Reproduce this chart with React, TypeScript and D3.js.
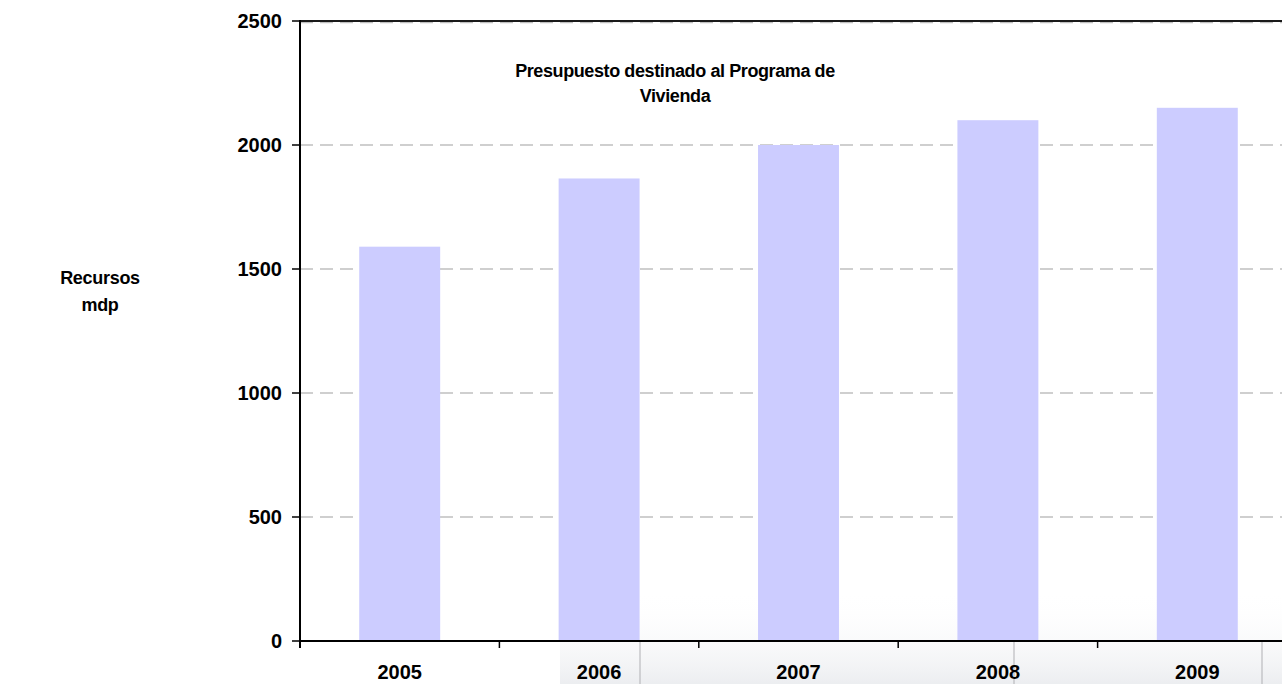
import React from 'react';
import * as d3 from 'd3';

const years = ['2005', '2006', '2007', '2008', '2009'];
const budget = [1590, 1865, 2000, 2100, 2150];
const yTicks = [0, 500, 1000, 1500, 2000, 2500];

const W = 1282;
const H = 684;
const margin = { top: 21, right: -15, bottom: 43, left: 300 };
const font = 'Arial, "Liberation Sans", sans-serif';

export default function App() {
  const x = d3
    .scaleBand<string>()
    .domain(years)
    .range([margin.left, W - margin.right])
    .paddingInner(0.594)
    .paddingOuter(0.297);

  const y = d3
    .scaleLinear()
    .domain([0, 2500])
    .range([H - margin.bottom, margin.top]);

  // category boundaries for the x-axis ticks
  const step = x.step();
  const bounds = d3.range(years.length + 1).map((i) => margin.left + i * step);

  return (
    <div style={{ position: 'absolute', left: 0, top: 0 }}>
      <svg width={W} height={H} style={{ display: 'block', background: '#fff' }} fontFamily={font}>
        <defs>
          <linearGradient id="bg" x1="0" y1="0" x2="0" y2="1">
            <stop offset="0" stopColor="#ffffff" stopOpacity={0} />
            <stop offset="1" stopColor="#e4e6ea" stopOpacity={0.7} />
          </linearGradient>
        </defs>
        {/* faint photo-like backdrop under the axis */}
        <rect x={560} y={590} width={W - 560} height={H - 590} fill="url(#bg)" />
        {[640, 1014, 1262].map((lx) => (
          <line key={lx} x1={lx} x2={lx} y1={y(0)} y2={H} stroke="#b0b0b4" strokeOpacity={0.5} strokeWidth={2} />
        ))}

        {/* gridlines */}
        {yTicks.slice(1).map((t) => (
          <line
            key={t}
            x1={margin.left}
            x2={W}
            y1={y(t) + (t === 2500 ? 1.5 : 0)}
            y2={y(t) + (t === 2500 ? 1.5 : 0)}
            stroke="#c0c0c0"
            strokeWidth={1.5}
            strokeDasharray="13 7"
          />
        ))}

        {/* bars */}
        {years.map((yr, i) => (
          <rect
            key={yr}
            x={x(yr)}
            y={y(budget[i])}
            width={x.bandwidth()}
            height={y(0) - y(budget[i])}
            fill="#ccccff"
          />
        ))}

        {/* top border */}
        <line x1={margin.left} x2={W} y1={y(2500)} y2={y(2500)} stroke="#1a1a1a" strokeWidth={2} />

        {/* y axis */}
        <line x1={margin.left} x2={margin.left} y1={y(2500) - 1} y2={y(0) + 7} stroke="#000" strokeWidth={2} />
        {yTicks.map((t) => (
          <g key={t}>
            <line x1={margin.left - 8} x2={margin.left} y1={y(t)} y2={y(t)} stroke="#000" strokeWidth={1.5} />
            <text
              x={margin.left - 18}
              y={y(t)}
              dy="0.36em"
              textAnchor="end"
              fontSize={20}
              fontWeight="bold"
            >
              {t}
            </text>
          </g>
        ))}

        {/* x axis */}
        <line x1={margin.left} x2={W} y1={y(0)} y2={y(0)} stroke="#000" strokeWidth={2} />
        {bounds.map((b, i) => (
          <line key={i} x1={b} x2={b} y1={y(0)} y2={y(0) + 7} stroke="#000" strokeWidth={1.5} />
        ))}
        {years.map((yr) => (
          <text
            key={yr}
            x={(x(yr) ?? 0) + x.bandwidth() / 2}
            y={679}
            textAnchor="middle"
            fontSize={20}
            fontWeight="bold"
          >
            {yr}
          </text>
        ))}

        {/* title */}
        <text textAnchor="middle" fontSize={18} fontWeight="bold" letterSpacing={-0.4}>
          <tspan x={675} y={77}>Presupuesto destinado al Programa de</tspan>
          <tspan x={675} y={102}>Vivienda</tspan>
        </text>

        {/* y label */}
        <text textAnchor="middle" fontSize={18} fontWeight="bold" letterSpacing={-0.3}>
          <tspan x={100} y={284}>Recursos</tspan>
          <tspan x={100} y={311}>mdp</tspan>
        </text>
      </svg>
    </div>
  );
}
